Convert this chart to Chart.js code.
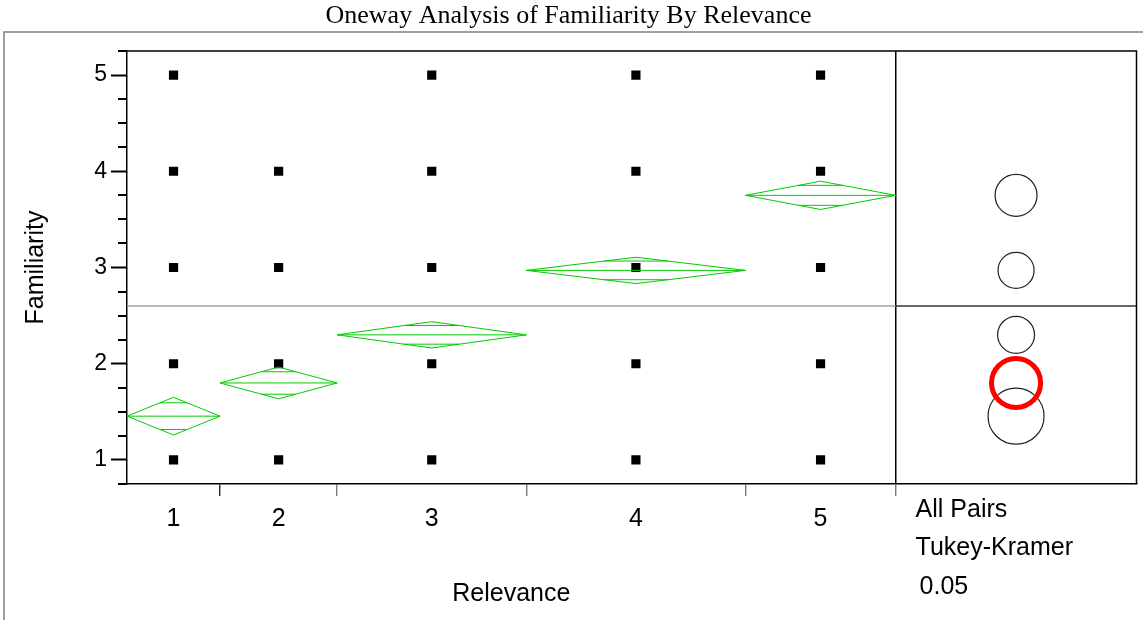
<!DOCTYPE html>
<html>
<head>
<meta charset="utf-8">
<script src="https://cdn.jsdelivr.net/npm/chart.js@4/dist/chart.umd.min.js"></script>
<style>
  html, body { margin: 0; padding: 0; background: #fff; }
  canvas { display: block; }
</style>
</head>
<body>
<canvas id="chart" width="1143" height="620"></canvas>
<script>
// Oneway analysis: Familiarity by Relevance (JMP style means diamonds + comparison circles)

const relevanceLevels = ['1', '2', '3', '4', '5'];
const groupCounts = [31, 39, 63, 73, 50];           // x widths are proportional to n
const groupMeans = [1.455, 1.80, 2.30, 2.97, 3.75];
const ciHalfWidths = [0.196, 0.165, 0.137, 0.137, 0.147];
const circleRadii = [0.291, 0.255, 0.192, 0.187, 0.218];
const observedFamiliarity = [
  [1, 2, 3, 4, 5],
  [1, 2, 3, 4],
  [1, 2, 3, 4, 5],
  [1, 2, 3, 4, 5],
  [1, 2, 3, 4, 5],
];
const grandMean = 2.60;
const yMajorTicks = [1, 2, 3, 4, 5];
const highlightedGroup = 1;
const xTitle = 'Relevance';
const panelLines = ['All Pairs', 'Tukey-Kramer', '0.05'];

const SANS = "'Liberation Sans', Arial, sans-serif";
const GREEN = '#00cc00';

// group boundaries / centers on the x scale
const bounds = [0];
groupCounts.forEach((n, i) => bounds.push(bounds[i] + n));
const totalN = bounds[bounds.length - 1];
const centers = groupCounts.map((n, i) => bounds[i] + n / 2);
const panelUnits = totalN * 241 / 769;
const xMax = totalN + panelUnits;

function seg(points, color, width) {
  return {
    type: 'scatter',
    data: points,
    showLine: true,
    borderColor: color,
    borderWidth: width,
    pointRadius: 0,
    tension: 0,
    fill: false,
  };
}

const datasets = [];

// grand mean line: gray across the plot, dark inside the comparison panel
datasets.push(seg([{ x: 0, y: grandMean }, { x: totalN, y: grandMean }], '#a0a0a0', 1.5));
datasets.push(seg([{ x: totalN, y: grandMean }, { x: xMax, y: grandMean }], '#333', 1.5));

// means diamonds
groupMeans.forEach((m, i) => {
  const L = bounds[i], R = bounds[i + 1], C = centers[i], h = ciHalfWidths[i];
  datasets.push(seg([
    { x: L, y: m }, { x: C, y: m + h }, { x: R, y: m }, { x: C, y: m - h }, { x: L, y: m },
  ], GREEN, 1));
  datasets.push(seg([{ x: L, y: m }, { x: R, y: m }], GREEN, 1));
  // overlap marks
  const k = Math.SQRT1_2;
  const half = (R - L) / 2 * (1 - k);
  [m + h * k, m - h * k].forEach(v => {
    datasets.push(seg([{ x: C - half, y: v }, { x: C + half, y: v }], GREEN, 1));
  });
});

// observations
const pts = [];
observedFamiliarity.forEach((vals, i) => vals.forEach(v => pts.push({ x: centers[i], y: v })));
datasets.push({
  type: 'scatter',
  data: pts,
  pointStyle: 'rect',
  pointRadius: 6.5,
  pointBackgroundColor: '#000',
  pointBorderColor: '#000',
  pointBorderWidth: 0,
});

const framePlugin = {
  id: 'frame',
  beforeDraw(chart) {
    const ctx = chart.ctx;
    ctx.save();
    ctx.fillStyle = '#fff';
    ctx.fillRect(0, 0, chart.width, chart.height);
    ctx.strokeStyle = '#808080';
    ctx.lineWidth = 1.5;
    ctx.strokeRect(4, 32, chart.width + 10, chart.height + 10);
    ctx.restore();
  },
  afterDatasetsDraw(chart) {
    const ctx = chart.ctx;
    const a = chart.chartArea;
    const y = chart.scales.y;
    const x = chart.scales.x;
    ctx.save();

    // minor ticks on the y axis
    ctx.strokeStyle = '#000';
    ctx.lineWidth = 2;
    y.ticks.forEach(t => {
      if (Number.isInteger(t.value)) return;
      const py = Math.round(y.getPixelForValue(t.value));
      ctx.beginPath();
      ctx.moveTo(a.left - 9, py);
      ctx.lineTo(a.left, py);
      ctx.stroke();
    });

    // top and right border
    ctx.lineWidth = 1.5;
    ctx.beginPath();
    ctx.moveTo(a.left, a.top);
    ctx.lineTo(a.right, a.top);
    ctx.lineTo(a.right, a.bottom);
    ctx.stroke();

    // comparison circles
    const cx = x.getPixelForValue(totalN + panelUnits / 2);
    const order = groupMeans.map((_, i) => i).filter(i => i !== highlightedGroup);
    order.push(highlightedGroup);
    order.forEach(i => {
      const cy = y.getPixelForValue(groupMeans[i]);
      const r = Math.abs(y.getPixelForValue(groupMeans[i] + circleRadii[i]) - cy);
      ctx.beginPath();
      ctx.arc(cx, cy, r, 0, Math.PI * 2);
      if (i === highlightedGroup) {
        ctx.strokeStyle = '#ff0000';
        ctx.lineWidth = 5;
      } else {
        ctx.strokeStyle = '#222';
        ctx.lineWidth = 1.2;
      }
      ctx.stroke();
    });

    // x axis title, centred under the plot part only
    ctx.fillStyle = '#000';
    ctx.font = '25px ' + SANS;
    ctx.textBaseline = 'alphabetic';
    ctx.textAlign = 'center';
    const midX = (x.getPixelForValue(0) + x.getPixelForValue(totalN)) / 2;
    ctx.fillText(xTitle, midX, 601);

    // test label under the panel
    ctx.textAlign = 'left';
    const px = x.getPixelForValue(totalN) + 20;
    ctx.fillText(panelLines[0], px, 517);
    ctx.fillText(panelLines[1], px, 555);
    ctx.fillText(panelLines[2], px + 4, 594);
    ctx.restore();
  },
};

new Chart(document.getElementById('chart'), {
  data: { datasets },
  options: {
    responsive: false,
    animation: false,
    devicePixelRatio: 1,
    layout: { padding: { left: 0, right: 6, top: 0, bottom: 0 } },
    plugins: {
      legend: { display: false },
      tooltip: { enabled: false },
      title: {
        display: true,
        text: 'Oneway Analysis of Familiarity By Relevance',
        color: '#000',
        font: { family: "'Liberation Serif', 'Times New Roman', serif", size: 26, weight: 'normal' },
        padding: { top: 0.8, bottom: 19 },
      },
    },
    scales: {
      y: {
        type: 'linear',
        position: 'left',
        min: 0.75,
        max: 5.25,
        afterFit: (s) => { s.width = 127; },
        afterBuildTicks: (s) => {
          const t = [];
          for (let v = 0.75; v <= 5.25 + 1e-9; v += 0.25) t.push({ value: v });
          s.ticks = t;
        },
        ticks: {
          color: '#000',
          font: { family: SANS, size: 23 },
          padding: 4,
          autoSkip: false,
          callback: (v) => (yMajorTicks.includes(v) ? String(v) : ''),
        },
        grid: {
          drawOnChartArea: false,
          tickLength: 16,
          tickWidth: 2,
          tickColor: (c) => (c.tick && Number.isInteger(c.tick.value) ? '#000' : 'rgba(0,0,0,0)'),
        },
        border: { display: true, color: '#000', width: 1.5 },
        title: {
          display: true,
          text: 'Familiarity',
          color: '#000',
          font: { family: SANS, size: 25 },
          padding: { top: 21, bottom: 0 },
        },
      },
      x: {
        type: 'linear',
        position: 'bottom',
        min: 0,
        max: xMax,
        afterFit: (s) => { s.height = 12; },
        afterBuildTicks: (s) => { s.ticks = bounds.slice(1).map(v => ({ value: v })); },
        ticks: { display: false },
        grid: {
          drawOnChartArea: true,
          drawTicks: true,
          tickLength: 12,
          tickWidth: 1.2,
          lineWidth: 1.5,
          color: (c) => (c.tick && c.tick.value === totalN ? '#000' : 'rgba(0,0,0,0)'),
          tickColor: (c) => (c.index === 0 ? '#000' : '#666'),
        },
        border: { display: true, color: '#000', width: 1.5 },
      },
      xl: {
        type: 'linear',
        position: 'bottom',
        min: 0,
        max: xMax,
        afterFit: (s) => { s.height = 124; },
        afterBuildTicks: (s) => { s.ticks = centers.map(v => ({ value: v })); },
        ticks: {
          color: '#000',
          font: { family: SANS, size: 25 },
          padding: 7.7,
          autoSkip: false,
          maxRotation: 0,
          callback: (v, idx) => relevanceLevels[idx],
        },
        grid: { display: false, drawTicks: false },
        border: { display: false },
      },
    },
  },
  plugins: [framePlugin],
});
</script>
</body>
</html>
